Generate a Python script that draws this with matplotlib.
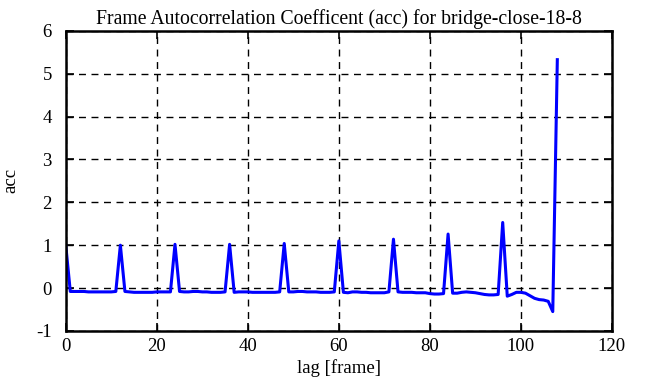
import numpy as np
import matplotlib
matplotlib.use('Agg')
import matplotlib.pyplot as plt

plt.rcParams['font.family'] = ['Liberation Serif', 'DejaVu Serif']
plt.rcParams['axes.unicode_minus'] = False

# autocorrelation values, one per lag 0..108
lags = list(range(0, 109))
acc = [
    1.00, -0.08, -0.08, -0.08, -0.08, -0.09, -0.09, -0.09, -0.09, -0.09,   # 0-9
    -0.09, -0.08, 1.00, -0.08, -0.09, -0.10, -0.10, -0.10, -0.10, -0.10,   # 10-19
    -0.09, -0.09, -0.09, -0.09, 1.02, -0.08, -0.09, -0.09, -0.08, -0.08,   # 20-29
    -0.09, -0.09, -0.10, -0.10, -0.10, -0.09, 1.02, -0.10, -0.09, -0.09,   # 30-39
    -0.09, -0.10, -0.10, -0.10, -0.10, -0.10, -0.10, -0.09, 1.04, -0.09,   # 40-49
    -0.09, -0.08, -0.08, -0.09, -0.09, -0.09, -0.10, -0.10, -0.10, -0.09,  # 50-59
    1.10, -0.10, -0.11, -0.09, -0.09, -0.10, -0.10, -0.11, -0.11, -0.11,   # 60-69
    -0.11, -0.09, 1.14, -0.09, -0.10, -0.10, -0.10, -0.11, -0.11, -0.11,   # 70-79
    -0.13, -0.14, -0.14, -0.13, 1.26, -0.12, -0.12, -0.10, -0.09, -0.10,   # 80-89
    -0.11, -0.13, -0.15, -0.16, -0.16, -0.15, 1.53, -0.19, -0.15, -0.10,   # 90-99
    -0.10, -0.12, -0.18, -0.24, -0.27, -0.28, -0.31, -0.55, 5.33,          # 100-108
]

xticks = [0, 20, 40, 60, 80, 100, 120]
yticks = [-1, 0, 1, 2, 3, 4, 5, 6]

fig = plt.figure(figsize=(6.51, 3.87), dpi=100)
ax = fig.add_axes([0.101, 0.145, 0.839, 0.775])

ax.plot(lags, acc, color='#0000ff', linewidth=2.2)

ax.set_xlim(0, 120)
ax.set_ylim(-1, 6)
ax.set_xticks(xticks)
ax.set_yticks(yticks)
ax.grid(True, color='black', linestyle=(0, (5, 4)), linewidth=1)
ax.tick_params(direction='in', length=6, width=1.2, top=True, right=True,
               labelsize=13.5)
ax.tick_params(axis='y', pad=10)
ax.tick_params(axis='x', pad=5)
for s in ax.spines.values():
    s.set_linewidth(1.8)

ax.set_title('Frame Autocorrelation Coefficent (acc) for bridge-close-18-8',
             fontsize=14.2, pad=5)
ax.set_xlabel('lag [frame]', fontsize=13.5, labelpad=3)
ax.set_ylabel('acc', fontsize=13.5, labelpad=12)

fig.savefig('out.png', dpi=100)
